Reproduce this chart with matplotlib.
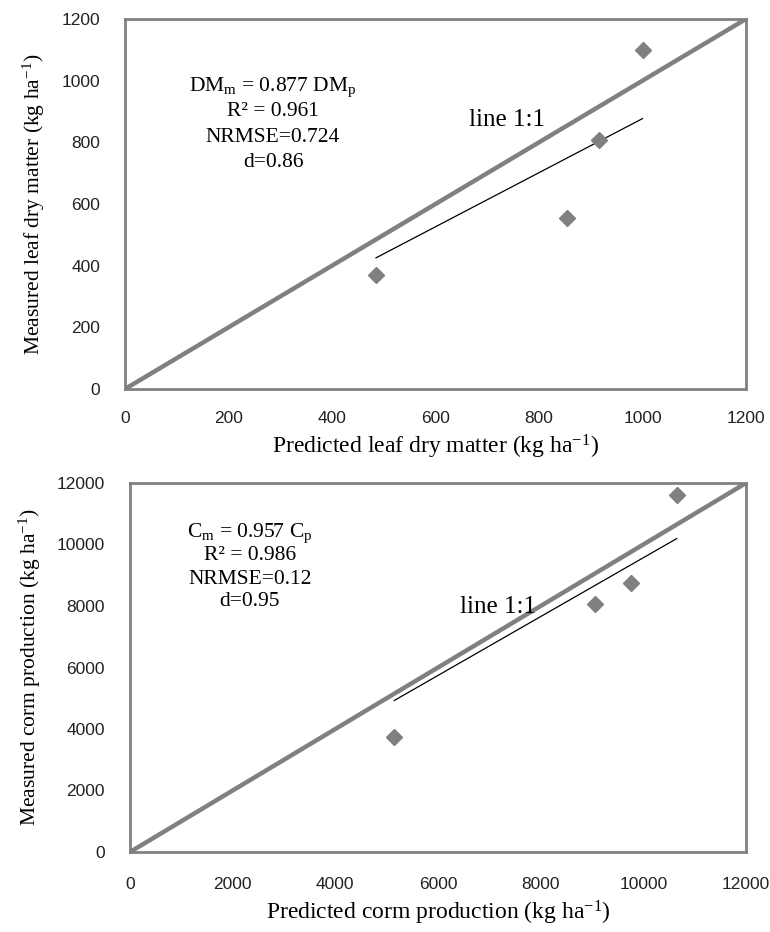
import matplotlib
matplotlib.use("Agg")
import numpy as np
import matplotlib.pyplot as plt

# ---- data ----
leaf_pred = [485, 855, 915, 1000]
leaf_meas = [370, 553, 808, 1100]
leaf_slope = 0.877
leaf_ticks = [0, 200, 400, 600, 800, 1000, 1200]
leaf_stats = ["DM$_\\mathrm{m}$ = 0.877 DM$_\\mathrm{p}$", "R² = 0.961", "NRMSE=0.724", "d=0.86"]

corm_pred = [5150, 9050, 9750, 10650]
corm_meas = [3750, 8050, 8750, 11600]
corm_slope = 0.957
corm_ticks = [0, 2000, 4000, 6000, 8000, 10000, 12000]
corm_stats = ["C$_\\mathrm{m}$ = 0.957 C$_\\mathrm{p}$", "R² = 0.986", "NRMSE=0.12", "d=0.95"]

SERIF = "Liberation Serif"
SANS = "Liberation Sans"
plt.rcParams["mathtext.fontset"] = "custom"
plt.rcParams["mathtext.rm"] = SERIF
plt.rcParams["mathtext.it"] = SERIF + ":italic"

GRAY = "#808080"

fig = plt.figure(figsize=(7.7, 9.32), dpi=100)
ax1 = fig.add_axes([125 / 770, 1 - 389 / 932, 621 / 770, 370 / 932])
ax2 = fig.add_axes([130 / 770, 1 - 852 / 932, 616 / 770, 369 / 932])


def draw_panel(ax, xp, ym, slope, ticks, stats, xlab, ylab, stat_xy, stat_step,
               line_xy, xpad):
    top = ticks[-1]
    # line 1:1
    ax.plot([0, top], [0, top], color=GRAY, lw=3.2, solid_capstyle="butt", zorder=2)
    # trendline through origin
    xs = np.array([min(xp), max(xp)])
    ax.plot(xs, slope * xs, color="black", lw=0.9, zorder=3)
    ax.plot(xp, ym, linestyle="none", marker="D", markersize=8.5,
            color=GRAY, markeredgecolor=GRAY, zorder=4)

    ax.set_xlim(0, top)
    ax.set_ylim(0, top)
    ax.set_xticks(ticks)
    ax.set_yticks(ticks)
    ax.tick_params(length=0, labelsize=12.5)
    ax.tick_params(axis="x", pad=xpad)
    ax.tick_params(axis="y", pad=18)
    for lab in ax.get_xticklabels() + ax.get_yticklabels():
        lab.set_family(SANS)
        lab.set_color("#222222")
    for sp in ax.spines.values():
        sp.set_color(GRAY)
        sp.set_linewidth(2.0)

    ax.set_xlabel(xlab, family=SERIF, fontsize=17, labelpad=5)
    ax.set_ylabel(ylab, family=SERIF, fontsize=15.5, labelpad=10)

    sx, sy = stat_xy
    for i, s in enumerate(stats):
        ax.text(sx, sy - i * stat_step, s, transform=ax.transAxes, family=SERIF,
                fontsize=15.5, ha="center", va="center")
    ax.text(line_xy[0], line_xy[1], "line 1:1", family=SERIF, fontsize=18,
            ha="center", va="center", zorder=5)


draw_panel(ax1, leaf_pred, leaf_meas, leaf_slope, leaf_ticks, leaf_stats,
           "Predicted leaf dry matter (kg ha$^{\\mathrm{-1}}$)",
           "Measured leaf dry matter (kg ha$^{\\mathrm{-1}}$)",
           ((273 - 125) / 621, (389 - 87) / 370), 25 / 370, (738, 872), 16)
draw_panel(ax2, corm_pred, corm_meas, corm_slope, corm_ticks, corm_stats,
           "Predicted corm production (kg ha$^{\\mathrm{-1}}$)",
           "Measured corm production (kg ha$^{\\mathrm{-1}}$)",
           ((250 - 130) / 616, (852 - 533) / 369), 23 / 369, (7170, 7970), 18)

fig.savefig("out.png", dpi=100, facecolor="white")
